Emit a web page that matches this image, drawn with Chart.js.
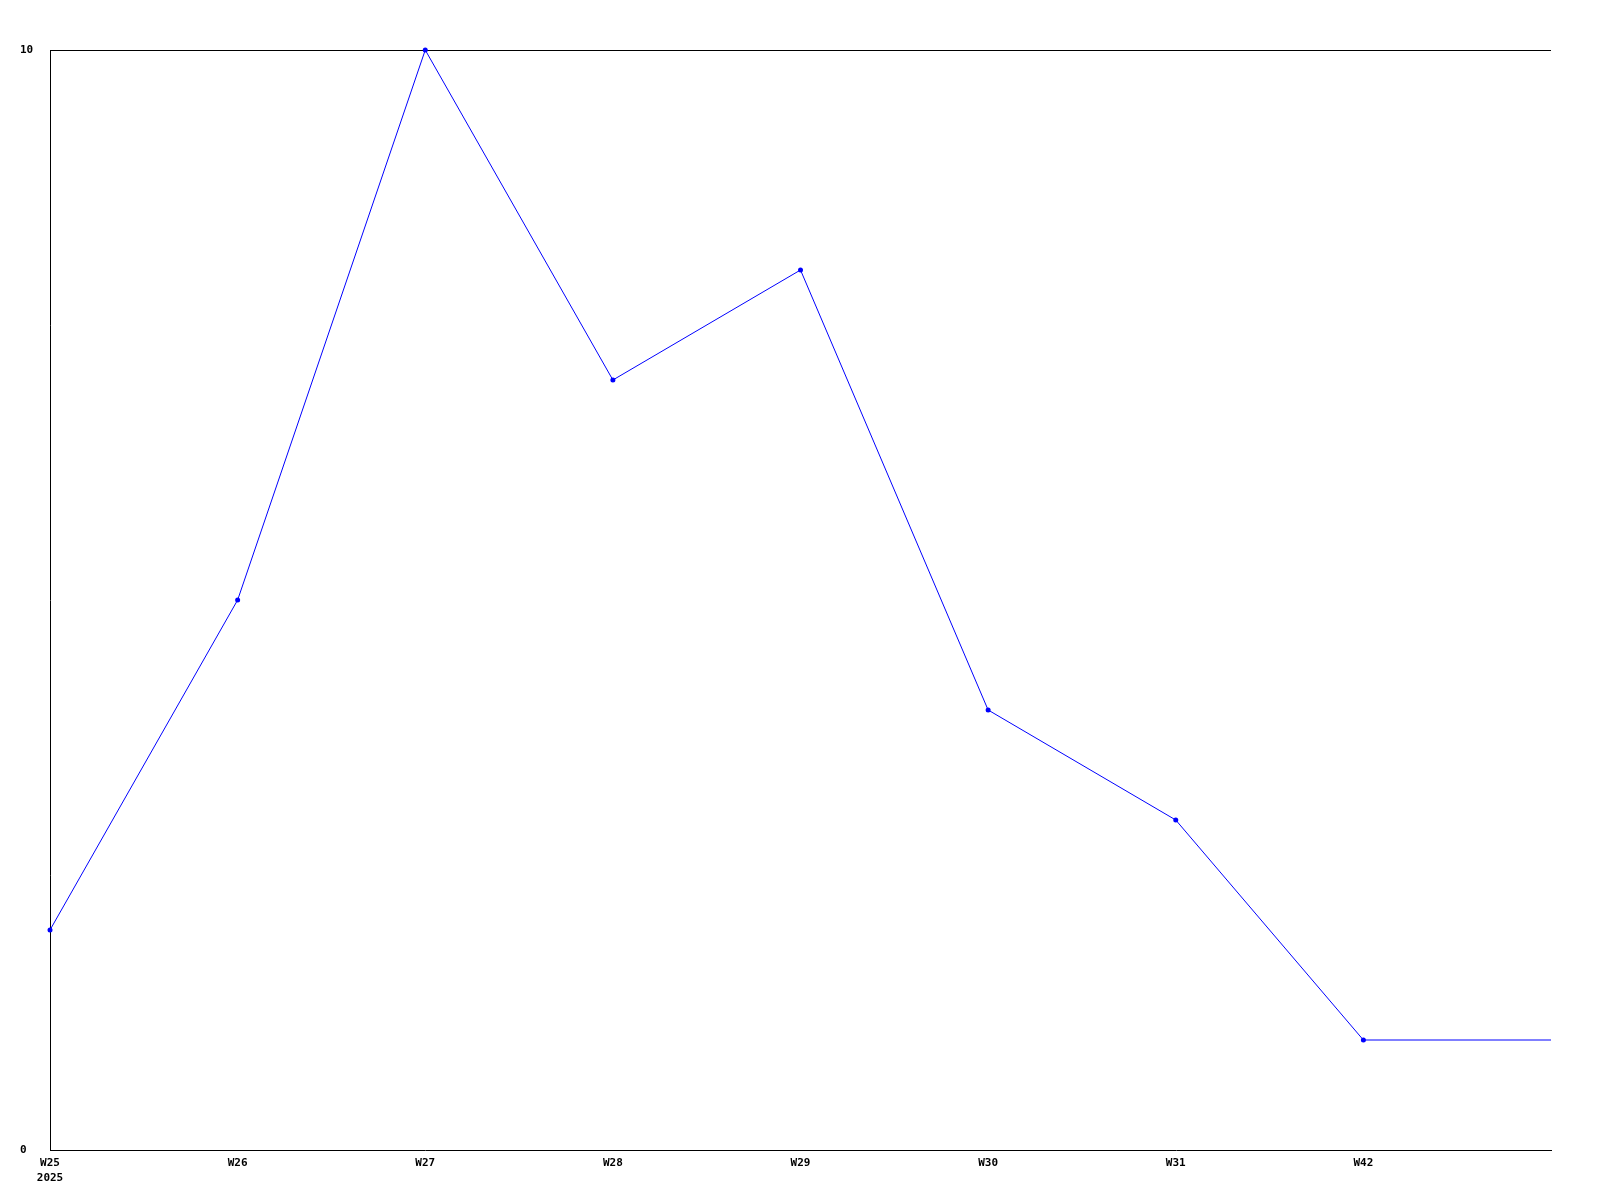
<!DOCTYPE html>
<html>
<head>
<meta charset="utf-8">
<script src="https://cdn.jsdelivr.net/npm/chart.js@4.4.1/dist/chart.umd.min.js"></script>
<style>
  html, body { margin: 0; padding: 0; background: #ffffff; }
  #c { display: block; }
</style>
</head>
<body>
<canvas id="c" width="1600" height="1200"></canvas>
<script>
const categories = [["W25", "2025"], "W26", "W27", "W28", "W29", "W30", "W31", "W42", ""];
const seriesValues = [2, 5, 10, 7, 8, 4, 3, 1, 1];
const pointSizes = [2.5, 2.5, 2.5, 2.5, 2.5, 2.5, 2.5, 2.5, 0];
const yTickLabels = [0, 10];

const ctx = document.getElementById('c').getContext('2d');
new Chart(ctx, {
  type: 'line',
  data: {
    labels: categories,
    datasets: [{
      data: seriesValues,
      borderColor: '#0000ff',
      backgroundColor: '#0000ff',
      borderWidth: 1,
      pointRadius: pointSizes,
      pointHoverRadius: pointSizes,
      pointBorderWidth: 0,
      tension: 0,
      fill: false,
      clip: false
    }]
  },
  options: {
    responsive: false,
    animation: false,
    devicePixelRatio: 1,
    layout: { padding: { left: 20, top: 50, right: 49, bottom: 0 } },
    plugins: { legend: { display: false }, tooltip: { enabled: false } },
    scales: {
      x: {
        type: 'category',
        offset: false,
        grid: { display: false, drawTicks: false },
        border: { display: true, color: '#000000', width: 1 },
        ticks: {
          autoSkip: false,
          maxRotation: 0,
          minRotation: 0,
          padding: 5,
          color: '#000000',
          font: { family: 'DejaVu Sans Mono', weight: 'bold', size: 11, lineHeight: 1.4 }
        },
        afterFit: (s) => { s.height = 50; }
      },
      y: {
        min: 0,
        max: 10,
        grid: {
          drawTicks: false,
          color: (c) => (c.tick && c.tick.value === 10 ? '#000000' : 'rgba(0,0,0,0)'),
          lineWidth: 1
        },
        border: { display: true, color: '#000000', width: 1 },
        ticks: {
          stepSize: 10,
          padding: 4,
          crossAlign: 'far',
          color: '#000000',
          font: { family: 'DejaVu Sans Mono', weight: 'bold', size: 11 },
          callback: (v) => (yTickLabels.includes(v) ? String(v) : '')
        },
        afterFit: (s) => { s.width = 30; }
      }
    }
  }
});
</script>
</body>
</html>
